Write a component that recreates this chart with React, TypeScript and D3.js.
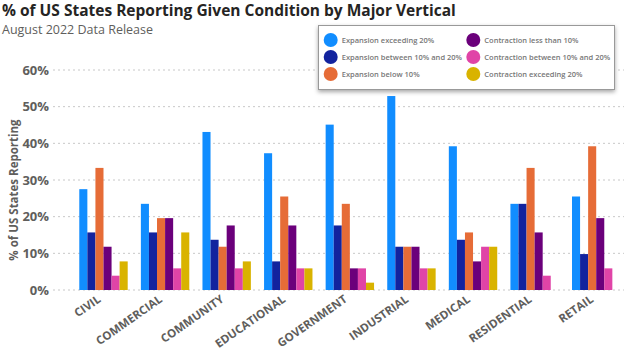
import React, { useEffect, useRef } from "react";
import * as d3 from "d3";

const categories = ["CIVIL", "COMMERCIAL", "COMMUNITY", "EDUCATIONAL", "GOVERNMENT", "INDUSTRIAL", "MEDICAL", "RESIDENTIAL", "RETAIL"];

const seriesNames = [
  "Expansion exceeding 20%",
  "Expansion between 10% and 20%",
  "Expansion below 10%",
  "Contraction less than 10%",
  "Contraction between 10% and 20%",
  "Contraction exceeding 20%",
];

const seriesColors = ["#118DFF", "#12239E", "#E66C37", "#6B007B", "#E044A7", "#D9B300"];

// values per series, in category order (% of states)
const expansionOver20 = [27.5, 23.5, 43.1, 37.3, 45.1, 52.9, 39.2, 23.5, 25.5];
const expansion10to20 = [15.7, 15.7, 13.7, 7.8, 17.6, 11.8, 13.7, 23.5, 9.8];
const expansionUnder10 = [33.3, 19.6, 11.8, 25.5, 23.5, 11.8, 15.7, 33.3, 39.2];
const contractionUnder10 = [11.8, 19.6, 17.6, 17.6, 5.9, 11.8, 7.8, 15.7, 19.6];
const contraction10to20 = [3.9, 5.9, 5.9, 5.9, 5.9, 5.9, 11.8, 3.9, 5.9];
const contractionOver20 = [7.8, 15.7, 7.8, 5.9, 2.0, 5.9, 11.8, 0, 0];

const seriesValues = [expansionOver20, expansion10to20, expansionUnder10, contractionUnder10, contraction10to20, contractionOver20];

const yTicks = [0, 10, 20, 30, 40, 50, 60];

const FONT = "'Open Sans', 'Noto Sans', sans-serif";

const App = () => {
  const svgRef = useRef<SVGSVGElement>(null);

  useEffect(() => {
    const width = 624;
    const height = 352;
    const svg = d3.select(svgRef.current).attr("width", width).attr("height", height);
    svg.selectAll("*").remove();

    const defs = svg.append("defs");
    const f = defs.append("filter").attr("id", "shadow").attr("x", "-10%").attr("y", "-20%").attr("width", "120%").attr("height", "150%");
    f.append("feDropShadow").attr("dx", 0).attr("dy", 2).attr("stdDeviation", 2).attr("flood-color", "#000").attr("flood-opacity", 0.35);

    // title
    svg.append("text").attr("x", 2).attr("y", 16).attr("font-family", FONT).attr("font-weight", 700)
      .attr("font-size", 15.5).attr("fill", "#252423").text("% of US States Reporting Given Condition by Major Vertical");
    svg.append("text").attr("x", 2).attr("y", 34).attr("font-family", FONT)
      .attr("font-size", 12.5).attr("fill", "#605E5C").text("August 2022 Data Release");

    const y = d3.scaleLinear().domain([0, 60]).range([290, 70]);
    const x = d3.scaleBand().domain(categories).range([72.7, 627]).paddingInner(0.214).paddingOuter(0.107);
    const xInner = d3.scaleBand().domain(seriesNames).range([0, x.bandwidth()]);

    // gridlines + tick labels
    const grid = svg.append("g");
    grid.selectAll("line").data(yTicks).enter().append("line")
      .attr("x1", 53).attr("x2", width).attr("y1", (d) => y(d)).attr("y2", (d) => y(d))
      .attr("stroke", "#c8c8c8").attr("stroke-dasharray", "2,3");
    grid.selectAll("text").data(yTicks).enter().append("text")
      .attr("x", 49).attr("y", (d) => y(d)).attr("dy", "0.35em").attr("text-anchor", "end")
      .attr("font-family", FONT).attr("font-weight", 700).attr("font-size", 13).attr("fill", "#605E5C")
      .text((d) => `${d}%`);

    svg.append("text").attr("transform", `translate(18,190) rotate(-90)`).attr("text-anchor", "middle")
      .attr("font-family", FONT).attr("font-weight", 700).attr("font-size", 11.5).attr("fill", "#605E5C")
      .text("% of US States Reporting");

    // bars
    const groups = svg.append("g").selectAll("g").data(categories).enter().append("g")
      .attr("transform", (d) => `translate(${x(d)},0)`);
    groups.selectAll("rect").data((d, i) => seriesNames.map((s, k) => ({ s, v: seriesValues[k][i], k })))
      .enter().append("rect")
      .attr("x", (d) => xInner(d.s))
      .attr("width", xInner.bandwidth())
      .attr("y", (d) => y(d.v))
      .attr("height", (d) => y(0) - y(d.v))
      .attr("fill", (d) => seriesColors[d.k]);

    // category labels
    svg.append("g").selectAll("text").data(categories).enter().append("text")
      .attr("transform", (d) => `translate(${x(d) + x.bandwidth() / 2 - 2},${301}) rotate(-35)`)
      .attr("text-anchor", "end")
      .attr("font-family", FONT).attr("font-weight", 700).attr("font-size", 11.5).attr("fill", "#605E5C")
      .text((d) => d);

    // legend
    const lg = svg.append("g");
    lg.append("rect").attr("x", 318.5).attr("y", 25.5).attr("width", 296).attr("height", 64)
      .attr("fill", "#fff").attr("stroke", "#999").attr("filter", "url(#shadow)");
    const items = lg.selectAll("g").data(seriesNames).enter().append("g")
      .attr("transform", (d, i) => `translate(${i < 3 ? 330.7 : 473.3},${40 + (i % 3) * 17})`);
    items.append("circle").attr("r", 7).attr("fill", (d, i) => seriesColors[i]);
    items.append("text").attr("x", 11).attr("dy", "0.35em")
      .attr("font-family", FONT).attr("font-weight", 600).attr("font-size", 7.5).attr("fill", "#777")
      .text((d) => d);
  }, []);

  return (
    <div style={{ position: "absolute", left: 0, top: 0 }}>
      <svg ref={svgRef}></svg>
    </div>
  );
};

export default App;
